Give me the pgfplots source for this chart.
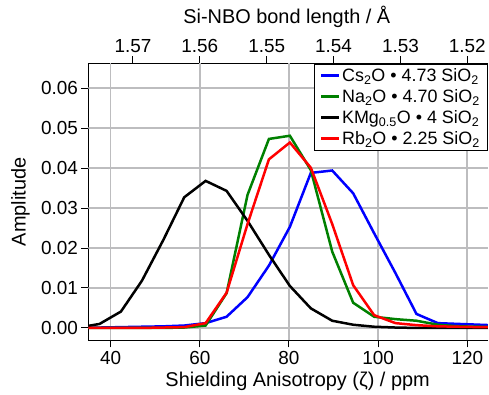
\documentclass[border=0pt]{standalone}
\usepackage{pgfplots}
\pgfplotsset{compat=1.18}
\usepackage{fontspec}
\setmainfont{Liberation Sans}
\definecolor{gridgray}{rgb}{0.74,0.74,0.75}
\definecolor{pgreen}{RGB}{0,128,0}

\pgfplotstableread{
x     cs      na      kmg     rb
32.8  0.0000  0.0000  0.0001  0.0000
37.5  0.0001  0.0000  0.0010  0.0000
42.3  0.0002  0.0000  0.0041  0.0000
47.0  0.0003  0.0000  0.0118  0.0000
51.8  0.0004  0.0000  0.0220  0.0001
56.5  0.0006  0.0001  0.0327  0.0002
61.3  0.0012  0.0006  0.0368  0.0012
66.0  0.0028  0.0087  0.0343  0.0088
70.7  0.0077  0.0333  0.0268  0.0260
75.5  0.0156  0.0473  0.0183  0.0422
80.2  0.0253  0.0481  0.0105  0.0464
84.9  0.0388  0.0395  0.0049  0.0401
89.7  0.0394  0.0191  0.0018  0.0260
94.4  0.0337  0.0063  0.0008  0.0107
99.1  0.0237  0.0028  0.0003  0.0032
103.9 0.0137  0.0022  0.0001  0.0012
108.6 0.0035  0.0018  0.0000  0.0007
113.4 0.0012  0.0008  0.0000  0.0004
118.1 0.0010  0.0004  0.0000  0.0003
122.8 0.0008  0.0003  0.0000  0.0002
127.6 0.0006  0.0002  0.0000  0.0002
}\datatable

\begin{document}
\begin{tikzpicture}
\begin{axis}[
  scale only axis,
  width=400bp, height=277.4bp,
  xmin=35, xmax=124.64,
  ymin=-0.0031, ymax=0.06625,
  axis x line*=box, axis y line*=left,
  xtick={40,60,80,100,120},
  ytick={0,0.01,0.02,0.03,0.04,0.05,0.06},
  xtick pos=bottom, ytick pos=left,
  tick align=outside,
  major tick length=7bp,
  every tick/.style={black, line width=1bp},
  axis line style={black, line width=1bp},
  extra x ticks={45,60,75,90,105,120},
  extra x tick labels={1.57,1.56,1.55,1.54,1.53,1.52},
  extra x tick style={xtick pos=top, xticklabel pos=top},
  /pgf/number format/assume math mode=true,
  yticklabel style={/pgf/number format/fixed, /pgf/number format/fixed zerofill, /pgf/number format/precision=2, font=\fontsize{19}{22}\selectfont},
  xticklabel style={font=\fontsize{19}{22}\selectfont},
  scaled y ticks=false,
  title={Si-NBO bond length / Å},
  title style={at={(axis description cs:0.4966,1.1226)}, anchor=base, font=\fontsize{20}{24}\selectfont},
  xlabel={Shielding Anisotropy (ζ) / ppm},
  xlabel style={at={(axis description cs:0.5237,-0.1669)}, anchor=base, font=\fontsize{20}{24}\selectfont},
  ylabel={Amplitude},
  ylabel style={at={(axis description cs:-0.1462,0.5)}, anchor=south, inner sep=0pt, font=\fontsize{20}{24}\selectfont},
  legend style={at={(rel axis cs:1,1)}, anchor=north east, draw=black, line width=1.3bp,
    font=\fontsize{18}{21}\selectfont, inner xsep=6bp, inner ysep=3bp,
    nodes={inner sep=1.5bp}, row sep=3.5bp},
  legend cell align=left,
  legend image code/.code={\draw[#1] (0bp,0bp) -- (18bp,0bp);},
]
\draw[gridgray, line width=1.6bp] (axis cs:40,-0.0031) -- (axis cs:40,0.06625);
\draw[gridgray, line width=1.6bp] (axis cs:60,-0.0031) -- (axis cs:60,0.06625);
\draw[gridgray, line width=1.6bp] (axis cs:80,-0.0031) -- (axis cs:80,0.06625);
\draw[gridgray, line width=1.6bp] (axis cs:100,-0.0031) -- (axis cs:100,0.06625);
\draw[gridgray, line width=1.6bp] (axis cs:120,-0.0031) -- (axis cs:120,0.06625);
\draw[gridgray, line width=1.6bp] (axis cs:35,0) -- (axis cs:124.64,0);
\draw[gridgray, line width=1.6bp] (axis cs:35,0.01) -- (axis cs:124.64,0.01);
\draw[gridgray, line width=1.6bp] (axis cs:35,0.02) -- (axis cs:124.64,0.02);
\draw[gridgray, line width=1.6bp] (axis cs:35,0.03) -- (axis cs:124.64,0.03);
\draw[gridgray, line width=1.6bp] (axis cs:35,0.04) -- (axis cs:124.64,0.04);
\draw[gridgray, line width=1.6bp] (axis cs:35,0.05) -- (axis cs:124.64,0.05);
\draw[gridgray, line width=1.6bp] (axis cs:35,0.06) -- (axis cs:124.64,0.06);
\addplot[blue, line width=2.5bp] table[x=x,y=cs] {\datatable};
\addlegendentry{Cs\textsubscript{2}O • 4.73 SiO\textsubscript{2}}
\addplot[pgreen, line width=2.5bp] table[x=x,y=na] {\datatable};
\addlegendentry{Na\textsubscript{2}O • 4.70 SiO\textsubscript{2}}
\addplot[black, line width=2.5bp] table[x=x,y=kmg] {\datatable};
\addlegendentry{KMg\textsubscript{0.5}O • 4 SiO\textsubscript{2}}
\addplot[red, line width=2.5bp] table[x=x,y=rb] {\datatable};
\addlegendentry{Rb\textsubscript{2}O • 2.25 SiO\textsubscript{2}}
\end{axis}
\path (-88.5bp,-51.3bp) (400bp,340.7bp);
\end{tikzpicture}
\end{document}
